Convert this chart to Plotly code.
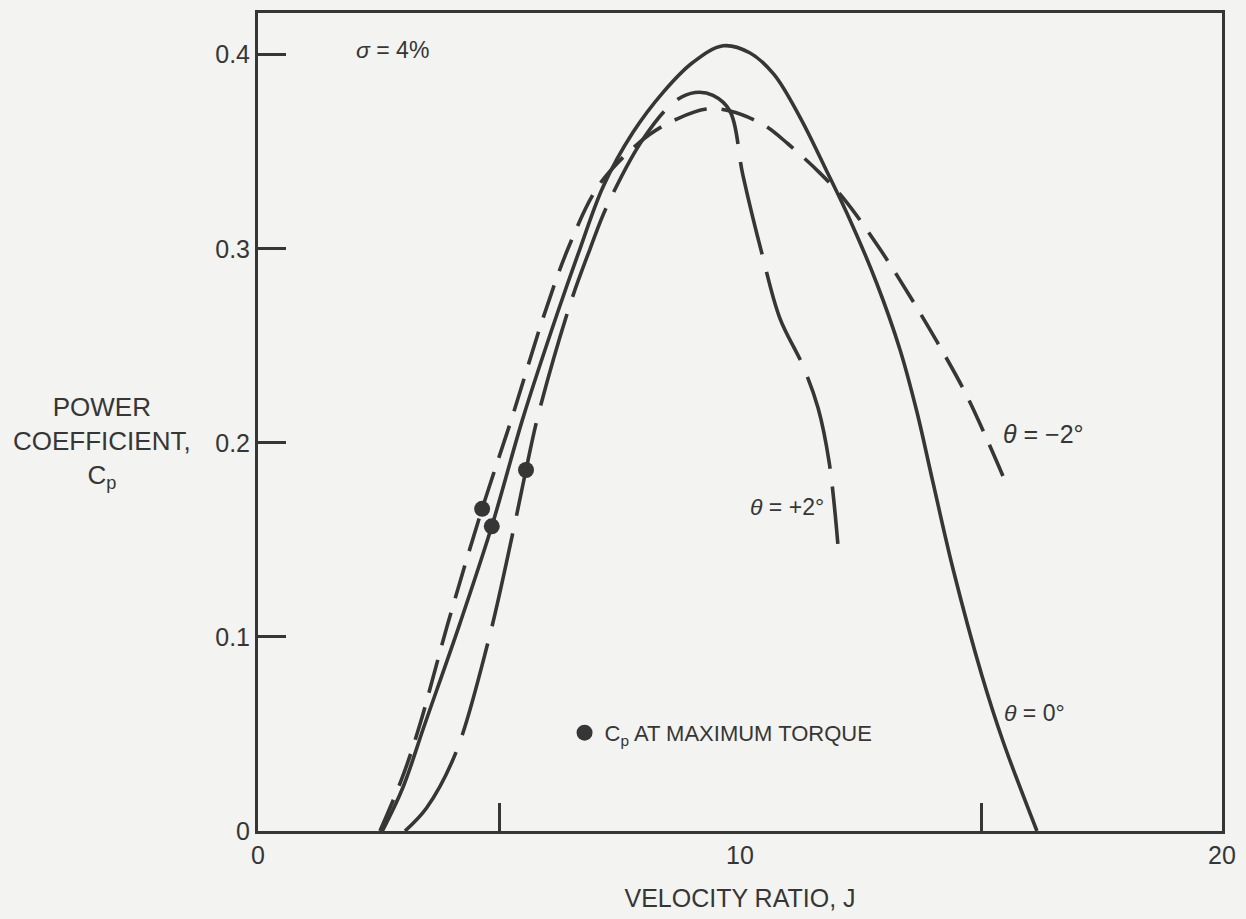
import plotly.graph_objects as go

# Power coefficient vs. velocity ratio for three blade pitch settings (solidity 4%)
j_minus2 = [2.53, 3.0, 3.36, 3.94, 4.65, 5.27, 5.91, 6.43, 7.0, 7.45, 8.13, 8.7, 9.3,
            9.79, 10.48, 11.0, 11.66, 12.18, 12.9, 13.49, 14.09, 14.67, 15.12, 15.54]
cp_minus2 = [0.0, 0.028, 0.055, 0.107, 0.166, 0.213, 0.264, 0.300, 0.330, 0.344, 0.359,
             0.367, 0.372, 0.371, 0.364, 0.354, 0.339, 0.325, 0.300, 0.277,
             0.252, 0.226, 0.202, 0.178]

j_zero = [2.58, 3.0, 3.46, 4.19, 4.85, 5.5, 6.2, 6.68, 7.16, 7.78, 8.4, 9.02, 9.65, 10.2,
          10.7, 11.24, 11.8, 12.28, 12.84, 13.32, 13.67, 14.0, 14.42, 15.02, 15.46, 16.16]
cp_zero = [0.0, 0.022, 0.055, 0.107, 0.157, 0.213, 0.266, 0.300, 0.332, 0.360, 0.3805,
           0.396, 0.4046, 0.401, 0.390, 0.368, 0.340, 0.315, 0.282, 0.248, 0.216, 0.180,
           0.135, 0.080, 0.046, 0.0]

j_plus2 = [3.05, 3.5, 4.09, 4.77, 5.29, 5.56, 5.81, 6.47, 6.89, 7.24, 8.0, 8.65, 9.07,
           9.44, 9.79, 10.06, 10.45, 10.83, 11.3, 11.62, 11.85, 12.03]
cp_plus2 = [0.0, 0.012, 0.0395, 0.097, 0.154, 0.186, 0.214, 0.271, 0.300, 0.322, 0.357,
            0.376, 0.3805, 0.379, 0.371, 0.338, 0.298, 0.264, 0.240, 0.218, 0.190, 0.148]

# Cp at maximum torque, one point per pitch setting (-2, 0, +2 deg)
j_max_torque = [4.65, 4.85, 5.56]
cp_max_torque = [0.166, 0.157, 0.186]

x_tick_vals = [0, 10, 20]
x_tick_text = ["0", "10", "20"]
x_minor_vals = [5, 15]
y_tick_vals = [0, 0.1, 0.2, 0.3, 0.4]
y_tick_text = ["0", "0.1", "0.2", "0.3", "0.4"]

INK = "#363636"
BG = "#f3f3f1"
FONT = "Liberation Sans, Arial, Helvetica, sans-serif"
FS = 25

fig = go.Figure()

fig.add_trace(go.Scatter(
    x=j_minus2, y=cp_minus2, mode="lines", showlegend=False,
    line=dict(color=INK, width=3.6, shape="spline", smoothing=1.0, dash="34px,15px"),
))
fig.add_trace(go.Scatter(
    x=j_zero, y=cp_zero, mode="lines", showlegend=False,
    line=dict(color=INK, width=3.6, shape="spline", smoothing=1.0),
))
fig.add_trace(go.Scatter(
    x=j_plus2, y=cp_plus2, mode="lines", showlegend=False,
    line=dict(color=INK, width=3.6, shape="spline", smoothing=1.0, dash="95px,18px"),
))
fig.add_trace(go.Scatter(
    x=j_max_torque, y=cp_max_torque, mode="markers",
    name="C<sub>p</sub> AT MAXIMUM TORQUE", showlegend=True,
    marker=dict(color=INK, size=16, line=dict(width=0)),
))

labels = [
    (2.78, 0.4026, "<i>σ</i> = 4%", FS - 2),
    (16.3, 0.2046, "<i>θ</i> = −2°", FS),
    (10.98, 0.1667, "<i>θ</i> = +2°", FS - 2),
    (16.12, 0.061, "<i>θ</i> = 0°", FS - 2),
]
for lx, ly, txt, fs in labels:
    fig.add_annotation(x=lx, y=ly, text=txt, showarrow=False, xanchor="center",
                       yanchor="middle", font=dict(family=FONT, size=fs, color=INK))

# Horizontal three-line y-axis caption
fig.add_annotation(
    xref="paper", yref="paper", x=-0.1615, y=0.4745,
    text="POWER<br>COEFFICIENT,<br>C<sub>p</sub>", showarrow=False,
    xanchor="center", yanchor="middle", align="center",
    font=dict(family=FONT, size=FS + 1, color=INK),
)

axis_common = dict(
    showline=True, linecolor=INK, linewidth=3, mirror=True,
    showgrid=False, zeroline=False,
    tickfont=dict(family=FONT, size=FS, color=INK),
)

fig.update_layout(
    width=1246, height=919,
    margin=dict(l=258, r=23, t=10, b=87),
    paper_bgcolor=BG, plot_bgcolor=BG,
    font=dict(family=FONT, size=FS, color=INK),
    xaxis=dict(range=[0, 20], tickmode="array", tickvals=x_tick_vals,
               ticktext=x_tick_text, ticks="",
               minor=dict(ticks="inside", tickmode="array", tickvals=x_minor_vals,
                          ticklen=28, tickwidth=3, tickcolor=INK),
               title=dict(text="VELOCITY RATIO, J", standoff=22,
                          font=dict(family=FONT, size=FS, color=INK)),
               **axis_common),
    yaxis=dict(range=[0, 0.4215], tickmode="array", tickvals=y_tick_vals,
               ticktext=y_tick_text, ticks="inside", ticklen=28, tickwidth=3,
               tickcolor=INK, **axis_common),
    legend=dict(x=0.318, y=0.12, xanchor="left", yanchor="middle",
                bgcolor="rgba(0,0,0,0)", borderwidth=0,
                font=dict(family=FONT, size=FS - 3, color=INK)),
)

fig.write_html("out.html")
